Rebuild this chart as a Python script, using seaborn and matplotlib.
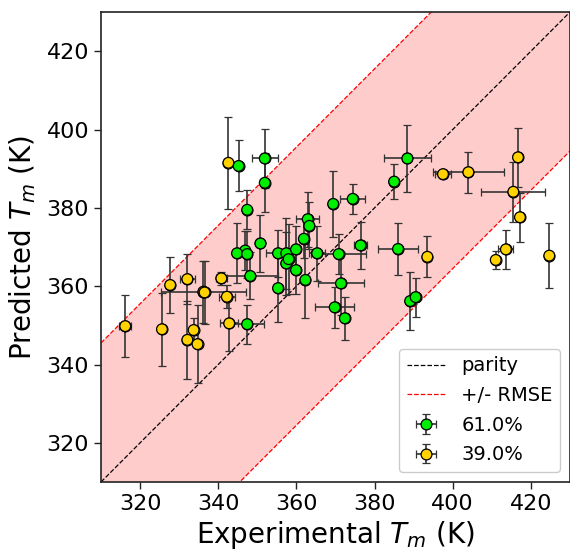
import numpy as np
import pandas as pd
import matplotlib
matplotlib.use("Agg")
import matplotlib.pyplot as plt
import seaborn as sns

# ---- data ----
green_x = [345.2, 347.4, 351.9, 351.9, 369.4, 374.4, 362.9, 363.3, 361.9, 376.4,
           350.8, 346.9, 344.8, 347.4, 355.3, 357.4, 359.9, 365.3, 370.8, 357.4,
           358.0, 359.9, 362.3, 371.4, 348.2, 355.3, 369.8, 372.4, 347.4, 388.4,
           385.0, 386.0, 389.1, 390.5]
green_y = [390.7, 379.5, 392.6, 386.4, 381.0, 382.3, 377.1, 375.4, 372.1, 370.4,
           370.9, 369.1, 368.4, 368.2, 368.4, 368.4, 369.4, 368.4, 368.2, 365.8,
           366.9, 364.1, 361.6, 360.7, 362.6, 359.5, 354.6, 351.8, 350.3, 392.6,
           386.7, 369.5, 356.2, 357.2]
green_xerr = [0.0, 0.0, 3.3, 0.0, 0.0, 3.2, 3.0, 0.0, 0.0, 1.7,
              0.0, 0.0, 0.0, 0.0, 3.0, 0.0, 0.0, 2.0, 7.0, 0.0,
              0.0, 0.0, 0.0, 6.0, 7.0, 0.0, 5.0, 0.0, 4.3, 6.0,
              0.0, 5.1, 0.0, 0.0]
green_yerr = [6.5, 5.0, 7.5, 7.5, 8.4, 3.9, 7.0, 6.0, 5.0, 6.0,
              7.3, 5.0, 7.7, 6.0, 6.0, 9.0, 6.0, 7.0, 5.0, 8.0,
              9.0, 6.0, 9.7, 8.0, 6.0, 8.6, 5.2, 5.5, 5.0, 8.6,
              4.4, 6.6, 7.4, 5.0]

yellow_x = [342.6, 340.8, 327.7, 332.1, 336.2, 336.5, 342.2, 316.2, 325.6, 333.7,
            332.1, 334.7, 342.8, 397.5, 404.0, 416.7, 415.5, 417.2, 413.6, 411.0,
            393.5, 424.7]
yellow_y = [391.5, 362.0, 360.3, 361.8, 358.6, 358.4, 357.3, 349.8, 349.0, 348.8,
            346.3, 345.2, 350.5, 388.6, 389.1, 392.9, 384.1, 377.6, 369.4, 366.7,
            367.5, 367.8]
yellow_xerr = [0.0, 1.5, 1.0, 1.9, 10.9, 0.0, 2.0, 1.5, 0.0, 0.0,
               0.0, 0.0, 2.3, 2.0, 9.0, 0.0, 8.2, 0.0, 1.9, 1.0,
               0.0, 0.0]
yellow_yerr = [11.8, 1.7, 7.2, 6.3, 7.9, 8.0, 3.0, 7.9, 9.3, 3.0,
               10.0, 10.0, 7.0, 1.0, 5.2, 7.5, 7.6, 6.2, 5.0, 2.2,
               5.2, 8.3]

labels = ["61.0%", "39.0%"]
rmse = 35.5
lims = [310, 430]
ticks = [320, 340, 360, 380, 400, 420]

df = pd.concat([
    pd.DataFrame({"exp": green_x, "pred": green_y, "xerr": green_xerr,
                  "yerr": green_yerr, "group": labels[0]}),
    pd.DataFrame({"exp": yellow_x, "pred": yellow_y, "xerr": yellow_xerr,
                  "yerr": yellow_yerr, "group": labels[1]}),
], ignore_index=True)
palette = {labels[0]: "#00ee00", labels[1]: "#ffd200"}

sns.set_style("ticks")
plt.rcParams["font.family"] = ["DejaVu Sans"]
plt.rcParams["mathtext.fontset"] = "dejavusans"
plt.rcParams["text.color"] = "black"
plt.rcParams["axes.labelcolor"] = "black"
plt.rcParams["xtick.color"] = "#222222"
plt.rcParams["ytick.color"] = "#222222"
plt.rcParams["xtick.labelcolor"] = "black"
plt.rcParams["ytick.labelcolor"] = "black"

fig = plt.figure(figsize=(5.7, 5.5), dpi=100)
ax = fig.add_axes([101 / 570, 68 / 550, 469 / 570, 470 / 550])

lo = np.array(lims, dtype=float)
ax.fill_between(lo, lo - rmse, lo + rmse, color="red", alpha=0.2, lw=0, zorder=0)
ax.plot(lo, lo, "k--", lw=0.9, label="parity", zorder=1)
ax.plot(lo, lo + rmse, "r--", lw=0.9, label="+/- RMSE", zorder=1)
ax.plot(lo, lo - rmse, "r--", lw=0.9, zorder=1)

for g in labels:
    sub = df[df["group"] == g]
    ax.errorbar(sub["exp"], sub["pred"], xerr=sub["xerr"], yerr=sub["yerr"],
                fmt="o", ms=7.8, mfc=palette[g], mec="k", mew=0.9,
                ecolor="#333333", elinewidth=1.2, capsize=3, capthick=1.2,
                label=g, zorder=2)

sns.scatterplot(data=df, x="exp", y="pred", hue="group", palette=palette,
                s=60, edgecolor="k", linewidth=0.9, legend=False, ax=ax, zorder=3)

ax.set_xlim(lims)
ax.set_ylim(lims)
ax.set_xticks(ticks)
ax.set_yticks(ticks)
ax.tick_params(labelsize=16, length=5, width=1)
for s in ax.spines.values():
    s.set_color("#222222")
    s.set_linewidth(1.2)
ax.set_xlabel("Experimental $T_m$ (K)", fontsize=20, labelpad=4)
ax.set_ylabel("Predicted $T_m$ (K)", fontsize=20, labelpad=6)
ax.legend(loc="lower right", fontsize=14, framealpha=1, labelspacing=0.55)

fig.savefig("out.png", dpi=100)
